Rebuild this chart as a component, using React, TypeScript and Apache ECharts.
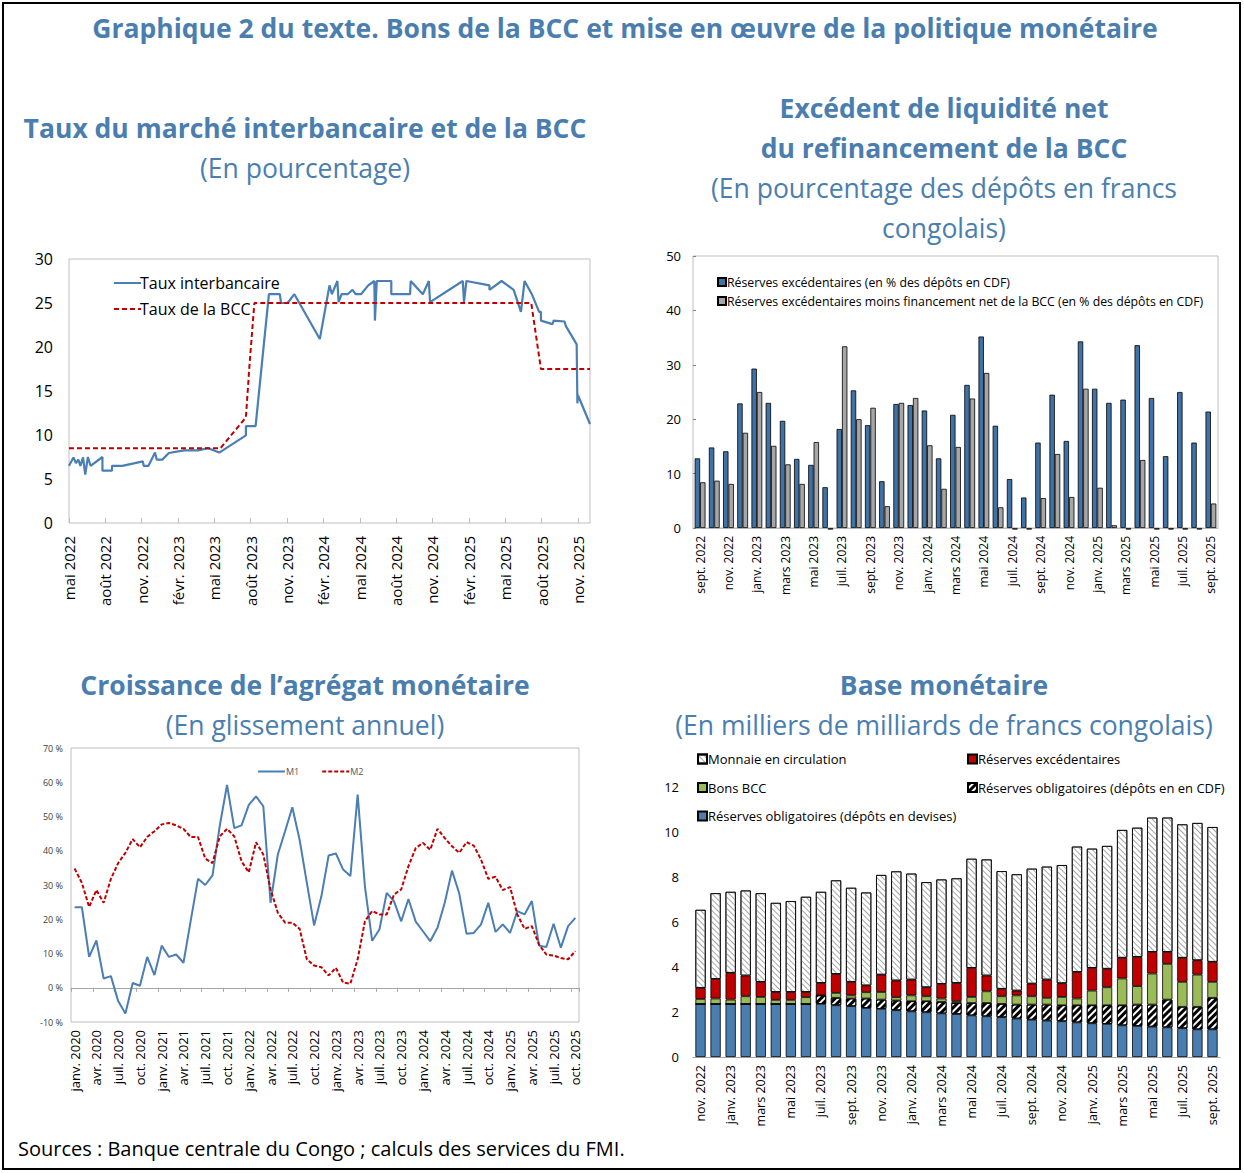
import React, { useEffect, useRef } from "react";
import * as echarts from "echarts";

const MOIS = ["janv.", "févr.", "mars", "avr.", "mai", "juin", "juil.", "août", "sept.", "oct.", "nov.", "déc."];
function monthLabels(startYear: number, startMonth: number, count: number): string[] {
  const out: string[] = [];
  for (let i = 0; i < count; i++) {
    const m = startMonth + i;
    out.push(`${MOIS[m % 12]} ${startYear + Math.floor(m / 12)}`);
  }
  return out;
}

// ---- Top-left: interbank rate vs BCC policy rate (x = months since May 2022)
const interbank: [number, number][] = [
  [0, 6.5], [0.37, 7.45], [0.57, 6.8], [0.77, 7.2], [0.94, 6.5], [1.16, 7.45], [1.34, 5.5], [1.56, 7.5],
  [1.78, 6.5], [2.76, 7.5], [2.76, 5.95], [3.55, 5.95], [3.55, 6.5], [4.4, 6.5], [6.1, 7.0], [6.16, 6.5],
  [6.56, 6.5], [7.1, 8.0], [7.24, 7.2], [7.7, 7.2], [8.24, 7.95], [9.5, 8.25], [10.65, 8.25], [11.5, 8.5],
  [12.4, 8.0], [14.6, 9.95], [14.6, 11.0], [15.4, 11.0], [16.5, 26.0], [17.4, 26.0], [17.5, 25.0], [18.04, 25.0],
  [18.6, 26.0], [20.7, 20.9], [21.5, 27.0], [21.7, 26.0], [22.15, 27.5], [22.25, 25.1], [22.5, 26.0], [23.0, 26.0],
  [23.4, 26.5], [23.65, 26.0], [24.1, 26.0], [24.7, 27.0], [25.2, 27.5], [25.25, 23.0], [25.4, 27.5], [26.6, 27.5],
  [26.6, 26.0], [28.15, 26.0], [28.2, 27.5], [29.2, 26.0], [29.7, 27.5], [29.8, 25.1], [32.5, 27.5], [32.6, 25.1],
  [32.8, 27.5], [34.7, 27.0], [34.7, 26.5], [35.7, 27.5], [36.7, 26.5], [37.3, 24.0], [37.6, 27.5], [38.2, 26.0],
  [38.8, 24.0], [38.95, 24.0], [38.95, 23.0], [39.9, 22.6], [40.0, 23.0], [40.9, 22.9], [41.0, 22.4], [41.9, 20.3],
  [41.96, 13.6], [42.0, 14.55], [43.0, 11.25],
];
const policyRate: [number, number][] = [
  [0, 8.5], [12.5, 8.5], [14.6, 12.0], [14.9, 18.0], [15.3, 25.0], [38.15, 25.0], [38.95, 17.5], [43.0, 17.5],
];

// ---- Top-right: excess liquidity (Sept 2022 - Sept 2025)
const liqCats = monthLabels(2022, 8, 37);
const excessReserves = [
  12.8, 14.8, 14.1, 22.9, 29.3, 23.0, 19.7, 12.7, 11.6, 7.5, 18.2, 25.3, 18.9, 8.6, 22.8, 22.6, 21.6, 12.8, 20.8,
  26.3, 35.2, 18.8, 9.0, 5.6, 15.7, 24.5, 16.0, 34.3, 25.6, 23.0, 23.6, 33.6, 23.9, 13.2, 25.0, 15.7, 21.4,
];
const excessNetBcc = [
  8.4, 8.7, 8.1, 17.5, 25.0, 15.1, 11.7, 8.1, 15.8, -0.3, 33.4, 20.0, 22.1, 4.0, 23.0, 23.9, 15.2, 7.2, 14.9,
  23.8, 28.5, 3.8, -0.3, -0.3, 5.5, 13.6, 5.7, 25.6, 7.4, 0.5, -0.3, 12.5, -0.3, -0.3, -0.3, -0.3, 4.5,
];

// ---- Bottom-left: monetary aggregates growth (Jan 2020 - Oct 2025)
const aggCats = monthLabels(2020, 0, 70);
const m1 = [
  23.5, 23.5, 9.0, 13.8, 2.7, 3.4, -3.9, -7.5, 1.4, 0.6, 9.0, 3.7, 12.3, 9.0, 9.7, 7.3, 19.6, 31.8, 30.0, 32.8,
  47.3, 59.2, 46.6, 47.4, 53.4, 55.9, 53.0, 24.8, 38.9, 45.7, 52.7, 43.2, 30.6, 18.2, 26.7, 38.6, 39.2, 34.5, 32.6, 56.4,
  29.6, 13.7, 17.0, 27.7, 25.3, 19.4, 25.9, 19.3, 16.5, 13.6, 17.5, 24.8, 34.2, 27.5, 15.8, 16.0, 18.5, 24.8, 16.3, 18.5,
  16.0, 22.4, 21.4, 25.3, 12.3, 11.9, 18.7, 11.7, 18.0, 20.4,
];
const m2 = [
  34.8, 30.6, 23.6, 28.5, 24.8, 31.8, 36.4, 39.4, 43.4, 41.0, 44.0, 45.7, 47.7, 48.1, 47.4, 46.4, 44.0, 44.0, 37.7, 36.4,
  44.2, 46.4, 44.2, 36.9, 33.7, 42.5, 38.9, 28.7, 21.9, 19.0, 19.0, 17.2, 8.3, 6.5, 6.0, 3.6, 5.8, 1.5, 1.2, 8.3,
  19.4, 22.4, 21.4, 21.4, 27.2, 28.7, 35.5, 40.8, 42.3, 40.3, 46.4, 43.7, 41.3, 39.4, 42.5, 41.5, 37.4, 31.8, 32.4, 28.5,
  29.4, 21.4, 17.2, 18.0, 12.6, 9.7, 9.4, 8.7, 8.3, 10.7,
];

// ---- Bottom-right: monetary base (Nov 2022 - Sept 2025)
const baseCats = monthLabels(2022, 10, 35);
const reqFx = [
  2.36, 2.36, 2.36, 2.36, 2.36, 2.36, 2.36, 2.36, 2.36, 2.30, 2.26, 2.18, 2.14, 2.08, 2.03, 1.99, 1.94, 1.91,
  1.85, 1.81, 1.77, 1.71, 1.66, 1.62, 1.59, 1.54, 1.50, 1.47, 1.41, 1.38, 1.35, 1.32, 1.28, 1.23, 1.23,
];
const reqCdf = [
  0, 0, 0, 0, 0, 0, 0, 0, 0.38, 0.33, 0.34, 0.42, 0.41, 0.43, 0.45, 0.49, 0.51, 0.49,
  0.55, 0.59, 0.59, 0.62, 0.67, 0.71, 0.71, 0.76, 0.80, 0.83, 0.89, 0.95, 0.98, 1.23, 0.95, 1.00, 1.40,
];
const bonsBcc = [
  0.22, 0.24, 0.19, 0.34, 0.31, 0.18, 0.18, 0.30, 0.0, 0.22, 0.14, 0.28, 0.34, 0.15, 0.26, 0.22, 0.15, 0.08,
  0.27, 0.52, 0.34, 0.41, 0.37, 0.30, 0.37, 0.30, 0.65, 0.80, 1.19, 0.82, 1.38, 1.59, 1.11, 1.43, 0.71,
];
const excessRes = [
  0.49, 0.87, 1.19, 0.92, 0.67, 0.35, 0.35, 0.23, 0.55, 0.84, 0.60, 0.30, 0.77, 0.74, 0.70, 0.40, 0.65, 0.81,
  1.29, 0.70, 0.33, 0.21, 0.56, 0.81, 0.61, 1.18, 1.01, 0.82, 0.92, 1.30, 0.96, 0.53, 1.07, 0.64, 0.89,
];
const currency = [
  3.47, 3.81, 3.60, 3.78, 3.94, 3.96, 4.04, 4.23, 4.05, 4.16, 4.18, 4.13, 4.43, 4.85, 4.71, 4.67, 4.64, 4.65,
  4.85, 5.16, 5.23, 5.17, 5.11, 5.02, 5.25, 5.57, 5.30, 5.46, 5.68, 5.74, 5.97, 5.97, 5.93, 6.10, 5.99,
];

const FONT = "'Open Sans', 'Noto Sans', sans-serif";
const TITLE_BLUE = "#4A7EAF";
const LINE_BLUE = "#4A7EB4";
const RED = "#C00000";
const AXIS_GRAY = "#BFBFBF";

function titleText(x: number, y: number, text: string, bold: boolean, size: number) {
  return {
    type: "text",
    x,
    y,
    style: {
      text,
      fill: TITLE_BLUE,
      font: `${bold ? "bold " : ""}${size}px ${FONT}`,
      textAlign: "center",
      align: "center",
      textVerticalAlign: "middle",
      verticalAlign: "middle",
    },
  };
}

export default function App() {
  const ref = useRef<HTMLDivElement>(null);
  useEffect(() => {
    if (!ref.current) return;
    const chart = echarts.init(ref.current, null, { renderer: "svg" });
    const lbl = { color: "#000", fontFamily: FONT };
    const option: any = {
      animation: false,
      backgroundColor: "#fff",
      textStyle: { fontFamily: FONT },
      graphic: [
        { type: "rect", shape: { x: 3, y: 3, width: 1237, height: 1166 }, style: { fill: "none", stroke: "#000", lineWidth: 2 } },
        titleText(625, 28, "Graphique 2 du texte. Bons de la BCC et mise en œuvre de la politique monétaire", true, 26.5),
        titleText(305, 128, "Taux du marché interbancaire et de la BCC", true, 26.5),
        titleText(305, 168, "(En pourcentage)", false, 26.5),
        titleText(944, 108, "Excédent de liquidité net", true, 26.5),
        titleText(944, 148, "du refinancement de la BCC", true, 26.5),
        titleText(944, 188, "(En pourcentage des dépôts en francs", false, 26.5),
        titleText(944, 228, "congolais)", false, 26.5),
        titleText(305, 685, "Croissance de l’agrégat monétaire", true, 26.5),
        titleText(305, 725, "(En glissement annuel)", false, 26.5),
        titleText(944, 685, "Base monétaire", true, 26.5),
        titleText(944, 725, "(En milliers de milliards de francs congolais)", false, 26.5),
        {
          type: "text",
          x: 18,
          y: 1148,
          style: {
            text: "Sources : Banque centrale du Congo ; calculs des services du FMI.",
            fill: "#000",
            font: `20px ${FONT}`,
            textAlign: "left",
            align: "left",
            textVerticalAlign: "middle",
            verticalAlign: "middle",
          },
        },
      ],
      grid: [
        { left: 69, top: 259, width: 521, height: 264, show: true, borderColor: AXIS_GRAY, borderWidth: 1, backgroundColor: "transparent" },
        { left: 693, top: 256, width: 525, height: 272, show: true, borderColor: AXIS_GRAY, borderWidth: 1, backgroundColor: "transparent" },
        { left: 71, top: 748, width: 508, height: 274, show: true, borderColor: AXIS_GRAY, borderWidth: 1, backgroundColor: "transparent" },
        { left: 693, top: 787, width: 527, height: 270, show: false },
      ],
      xAxis: [
        {
          type: "value", gridIndex: 0, min: 0, max: 43, interval: 3,
          axisLine: { show: false },
          axisTick: { show: true, inside: true, length: 5, lineStyle: { color: AXIS_GRAY } },
          splitLine: { show: false },
          axisLabel: {
            ...lbl, fontSize: 15, rotate: 90, margin: 13, showMaxLabel: false,
            formatter: (v: number) => {
              if (v % 3 !== 0) return "";
              const idx = 4 + v;
              return `${MOIS[idx % 12]} ${2022 + Math.floor(idx / 12)}`;
            },
          },
        },
        {
          type: "category", gridIndex: 1, data: liqCats,
          axisLine: { show: true, lineStyle: { color: AXIS_GRAY } },
          axisTick: { show: false },
          axisLabel: { ...lbl, fontSize: 12, rotate: 90, interval: 1, margin: 8 },
        },
        {
          type: "category", gridIndex: 2, data: aggCats, position: "bottom",
          axisLine: { show: false, onZero: false },
          axisTick: { show: false },
          axisLabel: { ...lbl, fontSize: 13, rotate: 90, interval: 2, margin: 8 },
        },
        {
          type: "category", gridIndex: 2, data: aggCats, position: "bottom",
          axisLine: { show: true, onZero: true, lineStyle: { color: "#A6A6A6" } },
          axisTick: { show: true, interval: 2, length: 4, lineStyle: { color: "#A6A6A6" } },
          axisLabel: { show: false },
        },
        {
          type: "category", gridIndex: 3, data: baseCats,
          axisLine: { show: true, lineStyle: { color: "#A6A6A6" } },
          axisTick: { show: false },
          axisLabel: { ...lbl, fontSize: 12.5, rotate: 90, interval: 1, margin: 8 },
        },
      ],
      yAxis: [
        {
          type: "value", gridIndex: 0, min: 0, max: 30, interval: 5,
          axisLine: { show: false }, axisTick: { show: false }, splitLine: { show: false },
          axisLabel: { ...lbl, fontSize: 16, margin: 16 },
        },
        {
          type: "value", gridIndex: 1, min: 0, max: 50, interval: 10,
          axisLine: { show: false }, splitLine: { show: false },
          axisTick: { show: true, inside: true, length: 3, lineStyle: { color: "#7F7F7F" } },
          axisLabel: { ...lbl, fontSize: 13, margin: 12 },
        },
        {
          type: "value", gridIndex: 2, min: -10, max: 70, interval: 10,
          axisLine: { show: false }, axisTick: { show: false }, splitLine: { show: false },
          axisLabel: { color: "#404040", fontFamily: FONT, fontSize: 9, margin: 8, formatter: "{value} %" },
        },
        {
          type: "value", gridIndex: 3, min: 0, max: 12, interval: 2,
          axisLine: { show: false }, axisTick: { show: false }, splitLine: { show: false },
          axisLabel: { ...lbl, fontSize: 13, margin: 14 },
        },
      ],
      legend: [
        {
          left: 108, top: 269, orient: "vertical", itemWidth: 27, itemHeight: 10, itemGap: 8,
          itemStyle: { opacity: 0 },
          textStyle: { ...lbl, fontSize: 16, lineHeight: 18, padding: [0, 0, 0, -6] },
          data: ["Taux interbancaire", "Taux de la BCC"],
        },
        {
          left: 712, top: 270, orient: "vertical", icon: "rect", itemWidth: 8, itemHeight: 8, itemGap: 5,
          textStyle: { ...lbl, fontSize: 12.3, lineHeight: 14, padding: [0, 0, 0, -4] },
          data: ["Réserves excédentaires (en % des dépôts en CDF)", "Réserves excédentaires moins financement net de la BCC (en % des dépôts en CDF)"],
        },
        {
          left: 252, top: 762, orient: "horizontal", itemWidth: 27, itemHeight: 8, itemGap: 22,
          itemStyle: { opacity: 0 },
          textStyle: { color: "#595959", fontFamily: FONT, fontSize: 9, padding: [0, 0, 0, -4] },
          data: ["M1", "M2"],
        },
        {
          left: 692, top: 746, orient: "vertical", icon: "rect", itemWidth: 9, itemHeight: 9, itemGap: 12.5,
          textStyle: { ...lbl, fontSize: 13, lineHeight: 16, padding: [0, 0, 0, -4] },
          data: ["Monnaie en circulation", "Bons BCC", "Réserves obligatoires (dépôts en devises)"],
        },
        {
          left: 962, top: 746, orient: "vertical", icon: "rect", itemWidth: 9, itemHeight: 9, itemGap: 12.5,
          textStyle: { ...lbl, fontSize: 13, lineHeight: 16, padding: [0, 0, 0, -4] },
          data: ["Réserves excédentaires", "Réserves obligatoires (dépôts en en CDF)"],
        },
      ],
      series: [
        {
          name: "Taux interbancaire", type: "line", xAxisIndex: 0, yAxisIndex: 0, data: interbank,
          symbol: "none", color: LINE_BLUE, lineStyle: { color: LINE_BLUE, width: 2.2 },
        },
        {
          name: "Taux de la BCC", type: "line", xAxisIndex: 0, yAxisIndex: 0, data: policyRate,
          symbol: "none", color: RED, lineStyle: { color: RED, width: 2, type: [5, 3] },
        },
        {
          name: "Réserves excédentaires (en % des dépôts en CDF)", type: "bar", xAxisIndex: 1, yAxisIndex: 1,
          data: excessReserves, barGap: "0%", barCategoryGap: "24%", clip: false,
          itemStyle: { color: "#3F72A6", borderColor: "#000", borderWidth: 0.8 },
        },
        {
          name: "Réserves excédentaires moins financement net de la BCC (en % des dépôts en CDF)", type: "bar",
          xAxisIndex: 1, yAxisIndex: 1, data: excessNetBcc, clip: false,
          itemStyle: { color: "#A6A6A6", borderColor: "#000", borderWidth: 0.8 },
        },
        {
          name: "M1", type: "line", xAxisIndex: 2, yAxisIndex: 2, data: m1,
          symbol: "none", color: LINE_BLUE, lineStyle: { color: LINE_BLUE, width: 2 },
        },
        {
          name: "M2", type: "line", xAxisIndex: 2, yAxisIndex: 2, data: m2,
          symbol: "none", color: RED, lineStyle: { color: RED, width: 2, type: [4, 2] },
        },
        {
          name: "Réserves obligatoires (dépôts en devises)", type: "bar", xAxisIndex: 4, yAxisIndex: 3, stack: "base",
          data: reqFx, barCategoryGap: "32%",
          itemStyle: { color: "#4A7EB0", borderColor: "#000", borderWidth: 0.8 },
        },
        {
          name: "Réserves obligatoires (dépôts en en CDF)", type: "bar", xAxisIndex: 4, yAxisIndex: 3, stack: "base",
          data: reqCdf,
          itemStyle: {
            color: "#fff", borderColor: "#000", borderWidth: 0.8,
            decal: { symbol: "rect", symbolSize: 1, color: "#000", dashArrayX: [1, 0], dashArrayY: [2.5, 2], rotation: -Math.PI / 4 },
          },
        },
        {
          name: "Bons BCC", type: "bar", xAxisIndex: 4, yAxisIndex: 3, stack: "base",
          data: bonsBcc,
          itemStyle: { color: "#9BBB59", borderColor: "#000", borderWidth: 0.8 },
        },
        {
          name: "Réserves excédentaires", type: "bar", xAxisIndex: 4, yAxisIndex: 3, stack: "base",
          data: excessRes,
          itemStyle: { color: RED, borderColor: "#000", borderWidth: 0.8 },
        },
        {
          name: "Monnaie en circulation", type: "bar", xAxisIndex: 4, yAxisIndex: 3, stack: "base",
          data: currency,
          itemStyle: {
            color: "#fff", borderColor: "#000", borderWidth: 0.8,
            decal: { symbol: "rect", symbolSize: 1, color: "#A6A6A6", dashArrayX: [1, 0], dashArrayY: [1, 2.5], rotation: Math.PI / 4 },
          },
        },
      ],
    };
    chart.setOption(option);
    return () => chart.dispose();
  }, []);
  return (
    <div
      ref={ref}
      style={{ position: "absolute", left: 0, top: 0, width: 1244, height: 1173, background: "#fff" }}
    />
  );
}
